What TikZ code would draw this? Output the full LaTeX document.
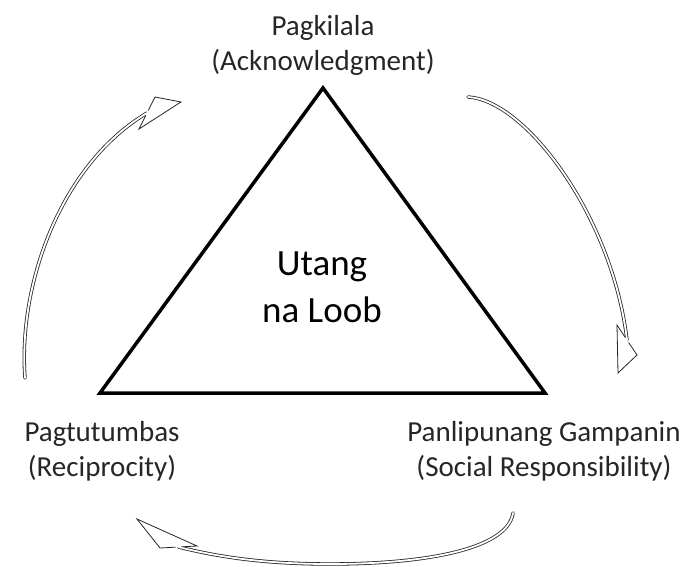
\documentclass[tikz,border=0pt]{standalone}
\usepackage{fontspec}
\setmainfont{Carlito}
\usetikzlibrary{calc}
\begin{document}
\begin{tikzpicture}[x=1pt,y=-1pt,
  lbl/.style={font=\fontsize{29}{35}\selectfont, align=center, inner sep=0pt, anchor=base, text=black!85},
  ctr/.style={font=\fontsize{37}{47}\selectfont, align=center, inner sep=0pt, anchor=base},
  shaft/.style={draw=black!85, line width=0.8pt, double=white, double distance=1.8pt, line cap=round},
  headfill/.style={fill=white, draw=none},
  headline/.style={draw=black!85, line width=0.8pt, line join=miter}]
\useasboundingbox (0,0) rectangle (688,567);
% triangle
\coordinate (A) at (323,88);
\coordinate (B) at (100,393);
\coordinate (C) at (545,393);
\draw[line width=3.5pt, line join=miter] (A) -- (B) -- (C) -- cycle;
% texts (base anchor = baseline of last line)
\node[ctr] (utang) at (322,322) {Utang\\na Loob};
\node[lbl] (pag) at (323,71) {Pagkilala\\(Acknowledgment)};
\node[lbl] (tum) at (102,476) {Pagtutumbas\\(Reciprocity)};
\node[lbl] (pan) at (544,476) {Panlipunang Gampanin\\(Social Responsibility)};
% left arrow
\coordinate (l0) at (25,378);
\coordinate (l1) at (155,97);
\coordinate (lt) at (181,102);
\coordinate (l2) at (139,129);
\coordinate (lm) at ($(l1)!0.5!(l2)$);
\draw[shaft] (l0) .. controls (18,285) and (60,165) .. (lm);
\fill[headfill] (l1) -- (lt) -- (l2) -- cycle;
\draw[headline] ($(l1)!0.42!(l2)$) -- (l1) -- (lt) -- (l2) -- ($(l1)!0.58!(l2)$);
% right arrow
\coordinate (r0) at (468,97);
\coordinate (r1) at (617,325);
\coordinate (rt) at (618,373);
\coordinate (r2) at (637,355);
\coordinate (rm) at ($(r1)!0.5!(r2)$);
\draw[shaft] (r0) .. controls (525,100) and (612,215) .. (rm);
\fill[headfill] (r1) -- (rt) -- (r2) -- cycle;
\draw[headline] ($(r1)!0.42!(r2)$) -- (r1) -- (rt) -- (r2) -- ($(r1)!0.58!(r2)$);
% bottom arrow
\coordinate (b0) at (513,513);
\coordinate (b1) at (197,546);
\coordinate (bt) at (137,519);
\coordinate (b2) at (160,548);
\coordinate (bm) at ($(b1)!0.5!(b2)$);
\draw[shaft] (b0) .. controls (508,548) and (430,564) .. (330,564) .. controls (260,564) and (215,556) .. (bm);
\fill[headfill] (b1) -- (bt) -- (b2) -- cycle;
\draw[headline] ($(b1)!0.42!(b2)$) -- (b1) -- (bt) -- (b2) -- ($(b1)!0.58!(b2)$);
\end{tikzpicture}
\end{document}
